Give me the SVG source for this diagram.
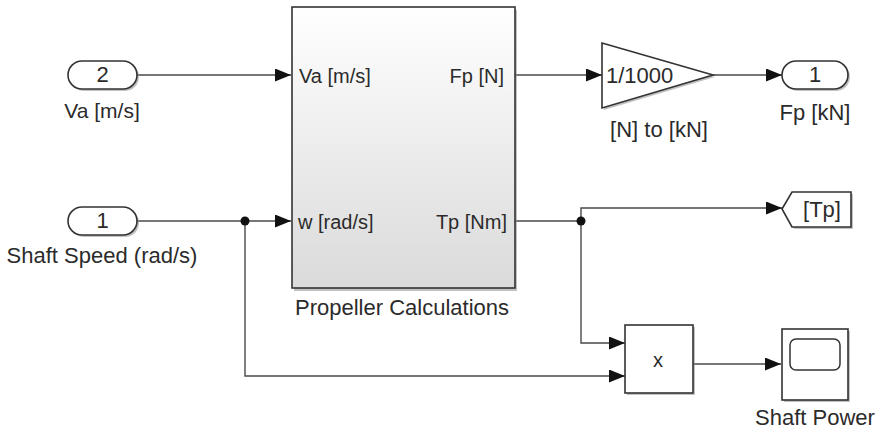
<svg xmlns="http://www.w3.org/2000/svg" width="880" height="434" viewBox="0 0 880 434">
  <style>
    text { font-family: "Liberation Sans", Arial, sans-serif; fill: #2b2b2b; }
    .lbl { font-size: 22px; text-anchor: middle; }
    .port { font-size: 20px; }
    .blk { fill: #ffffff; stroke: #333333; stroke-width: 1.6; }
    .shadow { fill: #8f8f8f; opacity: 0.55; }
    .wire { fill: none; stroke: #4a4a4a; stroke-width: 1.4; }
  </style>
  <defs>
    <marker id="arr" markerUnits="userSpaceOnUse" markerWidth="16" markerHeight="13" refX="16" refY="6.5" orient="auto">
      <path d="M0,0 L16,6.5 L0,13 z" fill="#111111"/>
    </marker>
    <linearGradient id="grad" x1="0" y1="0" x2="0" y2="1">
      <stop offset="0" stop-color="#ffffff"/>
      <stop offset="1" stop-color="#dadada"/>
    </linearGradient>
  </defs>
  <rect width="880" height="434" fill="#ffffff"/>

  <g id="connectors">
    <path class="wire" d="M137,75 H291" marker-end="url(#arr)"/>
    <path class="wire" d="M137,221 H291" marker-end="url(#arr)"/>
    <path class="wire" d="M245,221 V376 H625" marker-end="url(#arr)"/>
    <path class="wire" d="M515,75 H602" marker-end="url(#arr)"/>
    <path class="wire" d="M713,75 H782" marker-end="url(#arr)"/>
    <path class="wire" d="M515,221 H581 V208 H782" marker-end="url(#arr)"/>
    <path class="wire" d="M581,221 V343 H625" marker-end="url(#arr)"/>
    <path class="wire" d="M693,364 H781" marker-end="url(#arr)"/>
    <circle cx="245" cy="221" r="4.5" fill="#111111"/>
    <circle cx="581" cy="221" r="4.5" fill="#111111"/>
  </g>

  <g id="inport2">
    <rect class="shadow" x="70" y="63" width="69" height="28" rx="14"/>
    <rect class="blk" x="68" y="61" width="69" height="28" rx="14"/>
    <text x="102.5" y="82" class="lbl">2</text>
    <text x="102" y="118" class="lbl" style="font-size:21px">Va [m/s]</text>
  </g>

  <g id="inport1">
    <rect class="shadow" x="70" y="209" width="69" height="28" rx="14"/>
    <rect class="blk" x="68" y="207" width="69" height="28" rx="14"/>
    <text x="102.5" y="228" class="lbl">1</text>
    <text x="102" y="263" class="lbl">Shaft Speed (rad/s)</text>
  </g>

  <g id="propeller">
    <rect class="shadow" x="294" y="10" width="223" height="281"/>
    <rect x="292" y="7" width="223" height="281" fill="url(#grad)" stroke="#333333" stroke-width="1.6"/>
    <text x="299" y="83" class="port">Va [m/s]</text>
    <text x="298" y="229" class="port">w [rad/s]</text>
    <text x="504" y="83" class="port" text-anchor="end">Fp [N]</text>
    <text x="507" y="229" class="port" text-anchor="end">Tp [Nm]</text>
    <text x="402" y="315" class="lbl">Propeller Calculations</text>
  </g>

  <g id="gain">
    <polygon class="shadow" points="604,45 715,77 604,110"/>
    <polygon class="blk" points="602,43 713,75 602,108"/>
    <text x="606" y="83" style="font-size:22px">1/1000</text>
    <text x="659" y="137" class="lbl">[N] to [kN]</text>
  </g>

  <g id="outport1">
    <rect class="shadow" x="784" y="63" width="66" height="28" rx="14"/>
    <rect class="blk" x="782" y="61" width="66" height="28" rx="14"/>
    <text x="815" y="82" class="lbl">1</text>
    <text x="815" y="120" class="lbl">Fp [kN]</text>
  </g>

  <g id="goto">
    <polygon class="shadow" points="784,211 794,194 853,194 853,229 794,229"/>
    <polygon class="blk" points="782,209 792,192 851,192 851,227 792,227"/>
    <text x="822" y="217" class="lbl">[Tp]</text>
  </g>

  <g id="product">
    <rect class="shadow" x="627" y="327" width="68" height="68"/>
    <rect class="blk" x="625" y="325" width="68" height="68"/>
    <text x="658" y="367" class="lbl" style="font-size:20px">x</text>
  </g>

  <g id="scope">
    <rect class="shadow" x="784" y="331" width="66" height="71"/>
    <rect class="blk" x="782" y="329" width="66" height="71"/>
    <rect x="790" y="339" width="50" height="31" rx="6" fill="#ffffff" stroke="#333333" stroke-width="1.5"/>
    <text x="815" y="425" class="lbl">Shaft Power</text>
  </g>
</svg>
